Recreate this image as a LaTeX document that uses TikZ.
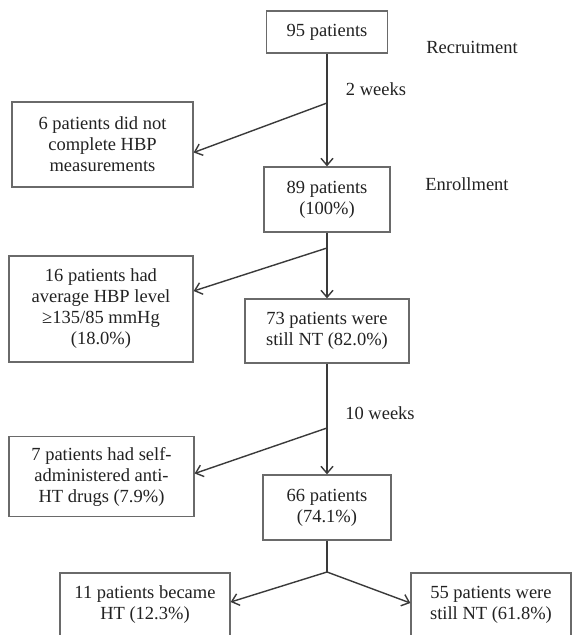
\documentclass[tikz,border=0pt]{standalone}
\usepackage{fontspec}
\setmainfont{Liberation Serif}
\usetikzlibrary{arrows.meta}
\definecolor{boxgray}{HTML}{6A6A6A}
\definecolor{linegray}{HTML}{3A3A3A}
\definecolor{txt}{HTML}{222222}
\begin{document}
\begin{tikzpicture}[x=1pt,y=-1pt,
  box/.style={draw=boxgray, line width=1.3pt, align=center, inner sep=0pt,
    font=\fontsize{18.5}{21}\selectfont, text=txt},
  lab/.style={font=\fontsize{18.5}{21}\selectfont, inner sep=0pt, text=txt},
  conn/.style={draw=linegray, line width=1.4pt},
  arr/.style={conn, -{Straight Barb[length=7pt,width=12pt,line width=1.4pt]}}]
\fill[white] (0,0) rectangle (575,635);
\useasboundingbox (0,0) rectangle (575,635);
\clip (0,0) rectangle (575,635);

% boxes
\node[box, minimum width=121pt, minimum height=42pt] (b95) at (327,32) {95 patients};
\node[box, minimum width=181pt, minimum height=85pt] (b6) at (102.5,144.5) {6 patients did not\\complete HBP\\measurements};
\node[box, minimum width=126pt, minimum height=65pt] (b89) at (327,199.5) {89 patients\\(100\%)};
\node[box, minimum width=184pt, minimum height=106pt] (b16) at (101,309) {16 patients had\\average HBP level\\≥135/85 mmHg\\(18.0\%)};
\node[box, minimum width=164pt, minimum height=64pt] (b73) at (327,331) {73 patients were\\still NT (82.0\%)};
\node[box, minimum width=185pt, minimum height=80pt] (b7) at (101.5,476.5) {7 patients had self-\\administered anti-\\HT drugs (7.9\%)};
\node[box, minimum width=128pt, minimum height=65pt] (b66) at (327,507.5) {66 patients\\(74.1\%)};
\node[box, minimum width=170pt, minimum height=64pt] (b11) at (145,605) {11 patients became\\HT (12.3\%)};
\node[box, minimum width=160pt, minimum height=64pt] (b55) at (491,605) {55 patients were\\still NT (61.8\%)};

% labels
\node[lab] (lrec) at (472,47) {Recruitment};
\node[lab] (lenr) at (467,184) {Enrollment};
\node[lab] (l2w) at (376,89) {2 weeks};
\node[lab] (l10w) at (380,413) {10 weeks};

% branch points
\coordinate (c1) at (327,103);
\coordinate (c2) at (327,248);
\coordinate (c3) at (327,428);
\coordinate (c4) at (327,572);

% connectors
\draw[conn] (b95.south) -- (c1);
\draw[arr] (c1) -- (b89.north);
\draw[arr] (c1) -- ([yshift=-8pt]b6.east);
\draw[conn] (b89.south) -- (c2);
\draw[arr] (c2) -- (b73.north);
\draw[arr] (c2) -- ([yshift=18pt]b16.east);
\draw[conn] (b73.south) -- (c3);
\draw[arr] (c3) -- (b66.north);
\draw[arr] (c3) -- ([yshift=3pt]b7.east);
\draw[conn] (b66.south) -- (c4);
\draw[arr] (c4) -- ([yshift=3pt]b11.east);
\draw[arr] (c4) -- ([yshift=2pt]b55.west);
\end{tikzpicture}
\end{document}
